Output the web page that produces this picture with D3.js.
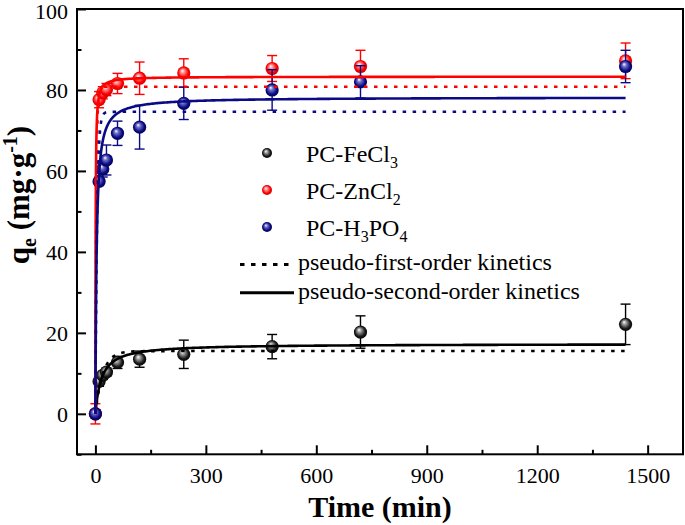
<!DOCTYPE html>
<html>
<head>
<meta charset="utf-8">
<script src="https://cdn.jsdelivr.net/npm/d3@7"></script>
<style>
  html, body { margin: 0; padding: 0; background: #fff; }
  svg { display: block; }
  svg text { font-family: "Liberation Serif", "Times New Roman", serif; }
</style>
</head>
<body>
<svg id="chart" width="685" height="525"></svg>
<script>
// ---- data ----
const times = [0, 10, 20, 30, 60, 120, 240, 480, 720, 1440];
const seriesNames = ["PC-FeCl3", "PC-ZnCl2", "PC-H3PO4"];
const feValues = [0, 8.0, 9.5, 10.3, 12.7, 13.5, 14.7, 16.6, 20.2, 22.1];
const feErrors = [0.5, 1.2, 1.0, 1.0, 1.5, 2.0, 3.5, 3.0, 4.0, 5.0];
const znValues = [0, 77.6, 79.3, 80.1, 81.6, 82.9, 84.2, 85.3, 85.8, 87.2];
const znErrors = [2.5, 2.0, 1.5, 1.5, 2.5, 4.0, 3.5, 3.2, 4.0, 4.4];
const hpValues = [0, 57.4, 60.5, 62.7, 69.3, 70.8, 76.7, 80.0, 82.0, 85.8];
const hpErrors = [0.5, 1.0, 2.0, 3.7, 3.0, 5.4, 4.0, 5.0, 4.0, 4.0];
// fitted kinetic model parameters (FeCl3, ZnCl2, H3PO4)
const pfoQe = [15.5, 80.8, 74.6];
const pfoK  = [0.05, 0.4, 0.22];
const psoQe = [17.3, 83.3, 78.2];
const psoK  = [0.0035, 0.02, 0.004];
const fitEnd = 1440;
const xTicks = [0, 300, 600, 900, 1200, 1500];
const xMinorTicks = [150, 450, 750, 1050, 1350];
const yTicks = [0, 20, 40, 60, 80, 100];
const yMinorTicks = [-10, 10, 30, 50, 70, 90];

const colors = ["#000000", "#ff0000", "#0a0a84"];
const gradStops = [
  ["#ffffff", "#9a9a9a", "#1a1a1a", "#000000"],
  ["#ffffff", "#ff9090", "#ff0000", "#c80000"],
  ["#ffffff", "#7070c8", "#0a0a84", "#00004a"]
];

const svg = d3.select("#chart");
const L = 77, R = 683, T = 9, B = 454.3;
const x = d3.scaleLinear().domain([-50, 1596]).range([L, R]);
const y = d3.scaleLinear().domain([-10, 100]).range([B, T]);

svg.append("rect").attr("width", 685).attr("height", 525).attr("fill", "#fff");

// gradients
const defs = svg.append("defs");
gradStops.forEach((st, i) => {
  const g = defs.append("radialGradient").attr("id", "ball" + i)
    .attr("cx", "50%").attr("cy", "50%").attr("r", "55%")
    .attr("fx", "38%").attr("fy", "32%");
  [0, 0.28, 0.7, 1].forEach((o, j) => g.append("stop").attr("offset", o).attr("stop-color", st[j]));
});

// axes
const fontTick = 22;
const fmt = d3.format("d");
const xAxis = svg.append("g").attr("transform", `translate(0,${B})`)
  .call(d3.axisBottom(x).tickValues(xTicks).tickSize(-9).tickPadding(13).tickFormat(fmt));
const xMinor = svg.append("g").attr("transform", `translate(0,${B})`)
  .call(d3.axisBottom(x).tickValues(xMinorTicks).tickSize(-4.5).tickFormat(""));
const yAxis = svg.append("g").attr("transform", `translate(${L},0)`)
  .call(d3.axisLeft(y).tickValues(yTicks).tickSize(-9).tickPadding(9).tickFormat(fmt));
const yMinor = svg.append("g").attr("transform", `translate(${L},0)`)
  .call(d3.axisLeft(y).tickValues(yMinorTicks).tickSize(-4.5).tickFormat(""));
[xAxis, xMinor, yAxis, yMinor].forEach(a => {
  a.attr("font-family", null).attr("font-size", null);
  a.select(".domain").remove();
  a.selectAll(".tick line").attr("stroke", "#000").attr("stroke-width", 2);
  a.selectAll(".tick text").style("font-size", fontTick + "px")
    .style("font-family", "'Liberation Serif', 'Times New Roman', serif").attr("fill", "#000");
});
yAxis.selectAll(".tick text").attr("dy", d => d === 100 ? "0.45em" : "0.35em");

// frame
svg.append("rect").attr("x", L).attr("y", T).attr("width", R - L).attr("height", B - T)
  .attr("fill", "none").attr("stroke", "#000").attr("stroke-width", 2);

// data groups
const valueSets = [feValues, znValues, hpValues];
const errorSets = [feErrors, znErrors, hpErrors];
const plot = svg.append("g");

// error bars + markers
valueSets.forEach((vals, i) => {
  const g = plot.append("g");
  const pts = times.map((t, k) => ({ t, v: vals[k], e: errorSets[i][k] }));
  const eb = g.selectAll("g.eb").data(pts).enter().append("g")
    .attr("stroke", colors[i]).attr("stroke-width", 1.4);
  eb.append("line").attr("x1", d => x(d.t)).attr("x2", d => x(d.t))
    .attr("y1", d => y(d.v - d.e)).attr("y2", d => y(d.v + d.e));
  eb.append("line").attr("x1", d => x(d.t) - 5).attr("x2", d => x(d.t) + 5)
    .attr("y1", d => y(d.v + d.e)).attr("y2", d => y(d.v + d.e));
  eb.append("line").attr("x1", d => x(d.t) - 5).attr("x2", d => x(d.t) + 5)
    .attr("y1", d => y(d.v - d.e)).attr("y2", d => y(d.v - d.e));
  g.selectAll("circle").data(pts).enter().append("circle")
    .attr("cx", d => x(d.t)).attr("cy", d => y(d.v)).attr("r", 6.6)
    .attr("fill", `url(#ball${i})`);
});

// fitted model curves
const sampleT = [];
for (let t = 0; t < 60; t += 0.25) sampleT.push(t);
for (let t = 60; t <= fitEnd; t += 4) sampleT.push(t);
const pfo = (qe, k) => t => qe * (1 - Math.exp(-k * t));
const pso = (qe, k) => t => (k * qe * qe * t) / (1 + k * qe * t);
const line = d3.line().x(d => x(d[0])).y(d => y(d[1]));
[0, 1, 2].forEach(i => {
  const f1 = pfo(pfoQe[i], pfoK[i]);
  const f2 = pso(psoQe[i], psoK[i]);
  plot.append("path").attr("d", line(sampleT.map(t => [t, f1(t)])))
    .attr("fill", "none").attr("stroke", colors[i]).attr("stroke-width", 2.6)
    .attr("stroke-dasharray", "3.5 6.5");
  plot.append("path").attr("d", line(sampleT.map(t => [t, f2(t)])))
    .attr("fill", "none").attr("stroke", colors[i]).attr("stroke-width", 2.6);
});

// legend
const leg = svg.append("g").attr("fill", "#000").style("font-size", "24px");
[153, 190, 227].forEach((cy, i) => {
  leg.append("circle").attr("cx", 267).attr("cy", cy).attr("r", 5)
    .attr("fill", `url(#ball${i})`);
});
function subT(sel, s) {
  sel.append("tspan").style("font-size", "16px").attr("dy", 6).text(s);
}
let t1 = leg.append("text").attr("x", 306).attr("y", 161.5);
t1.append("tspan").text("PC-FeCl"); subT(t1, "3");
let t2 = leg.append("text").attr("x", 306).attr("y", 199);
t2.append("tspan").text("PC-ZnCl"); subT(t2, "2");
let t3 = leg.append("text").attr("x", 306).attr("y", 236);
t3.append("tspan").text("PC-H");
subT(t3, "3");
t3.append("tspan").attr("dy", -6).text("PO");
subT(t3, "4");

leg.append("line").attr("x1", 240).attr("x2", 294).attr("y1", 264.5).attr("y2", 264.5)
  .attr("stroke", "#000").attr("stroke-width", 3).attr("stroke-dasharray", "4.5 6.5");
leg.append("text").attr("x", 298).attr("y", 270).text("pseudo-first-order kinetics");
leg.append("line").attr("x1", 240).attr("x2", 294).attr("y1", 292.7).attr("y2", 292.7)
  .attr("stroke", "#000").attr("stroke-width", 3);
leg.append("text").attr("x", 298).attr("y", 298.5).text("pseudo-second-order kinetics");

// axis titles
svg.append("text").attr("x", (L + R) / 2).attr("y", 517).attr("text-anchor", "middle")
  .style("font-size", "30px").attr("font-weight", "bold").text("Time (min)");
const yt = svg.append("text").attr("transform", "translate(29,195) rotate(-90)")
  .attr("text-anchor", "middle").style("font-size", "31px").attr("font-weight", "bold");
yt.append("tspan").text("q");
yt.append("tspan").style("font-size", "20px").attr("dy", 7).text("e");
yt.append("tspan").attr("dy", -7).text(" (mg·g");
yt.append("tspan").style("font-size", "20px").attr("dy", -12).text("-1");
yt.append("tspan").attr("dy", 12).text(")");
</script>
</body>
</html>
